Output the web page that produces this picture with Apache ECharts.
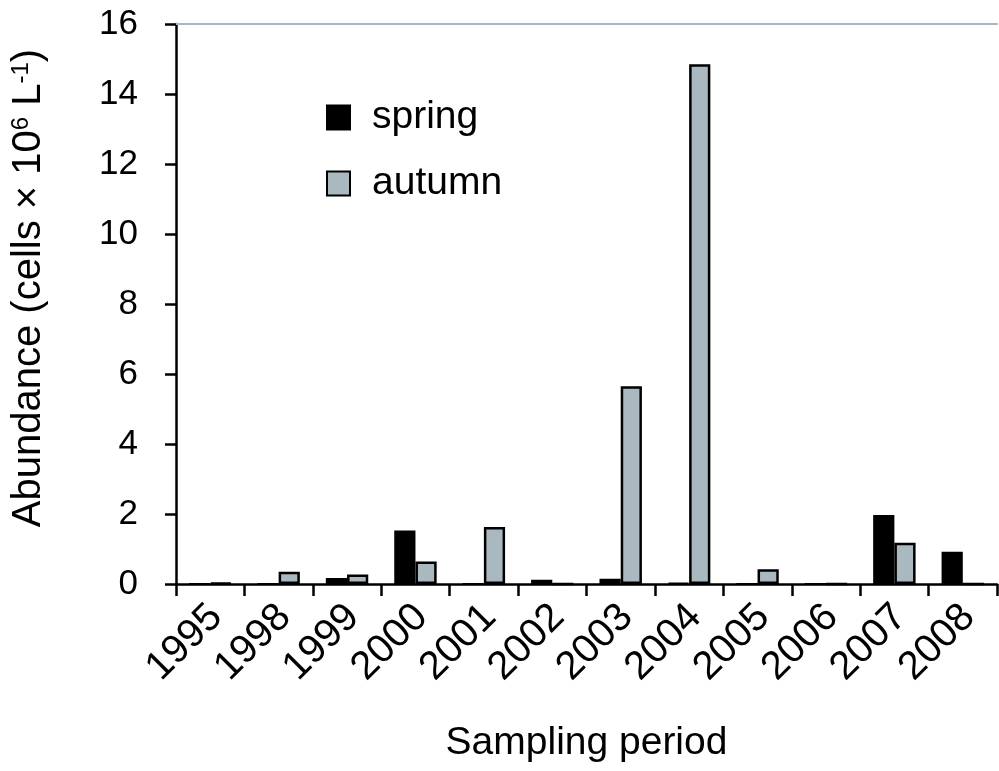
<!DOCTYPE html>
<html><head><meta charset="utf-8">
<script src="https://cdn.jsdelivr.net/npm/echarts@6/dist/echarts.min.js"></script>
<style>html,body{margin:0;padding:0;background:#fff}#c{width:999px;height:771px}</style>
</head><body><div id="c"></div>
<script>
const categories = ['1995','1998','1999','2000','2001','2002','2003','2004','2005','2006','2007','2008'];
const spring = [0, 0, 0.17, 1.53, 0, 0.12, 0.15, 0.03, 0, 0, 1.97, 0.92];
const autumn = [0.03, 0.35, 0.27, 0.64, 1.63, 0, 5.65, 14.85, 0.42, 0, 1.18, 0];
const yTicks = [0, 2, 4, 6, 8, 10, 12, 14, 16];

const font = 'Liberation Sans, Arial, sans-serif';
const chart = echarts.init(document.getElementById('c'));
chart.setOption({
  animation: false,
  backgroundColor: '#fff',
  grid: {left: 176, right: 2, top: 24, bottom: 187},
  legend: {
    orient: 'vertical', left: 321, top: 93, itemWidth: 23, itemHeight: 24, itemGap: 27,
    icon: 'rect',
    textStyle: {fontFamily: font, fontSize: 39, color: '#000', padding: [0, 0, 0, 17]},
    data: ['spring', 'autumn']
  },
  xAxis: [{
    type: 'category', data: categories,
    axisLine: {lineStyle: {color: '#000', width: 2.5}},
    axisTick: {show: true, interval: 0, length: 12, lineStyle: {color: '#000', width: 2.5}},
    axisLabel: {interval: 0, hideOverlap: false, rotate: 45, fontFamily: font, fontSize: 40, color: '#000',
      margin: 21, verticalAlign: 'top', lineHeight: 17},
    name: 'Sampling period', nameLocation: 'middle', nameGap: 140, nameMoveOverlap: false,
    nameTextStyle: {fontFamily: font, fontSize: 39, color: '#000'}
  }, {
    type: 'category', data: categories, position: 'top',
    axisLine: {lineStyle: {color: '#a9b9bf', width: 2}},
    axisTick: {show: false}, axisLabel: {show: false}
  }],
  yAxis: {
    type: 'value', min: 0, max: 16, interval: 2,
    axisLine: {show: true, lineStyle: {color: '#000', width: 2.5}},
    axisTick: {show: true, length: 11, lineStyle: {color: '#000', width: 2.5}},
    splitLine: {show: false},
    axisLabel: {fontFamily: font, fontSize: 35, color: '#000', margin: 38,
      formatter: v => yTicks.includes(v) ? String(v) : ''},
    name: '{n|Abundance (cells × 10}{s|6}{n| L}{s|-1}{n|)}',
    nameLocation: 'middle', nameGap: 127, nameMoveOverlap: false,
    nameTextStyle: {
      padding: [0, 0, 0, 32],
      rich: {
        n: {fontFamily: font, fontSize: 40, color: '#000'},
        s: {fontFamily: font, fontSize: 24, color: '#000', verticalAlign: 'top', padding: [0, 0, 16, 0]}
      }
    }
  },
  series: [{
    name: 'spring', type: 'bar', data: spring, barGap: '0%', barCategoryGap: '38%',
    itemStyle: {color: '#000', borderColor: '#000', borderWidth: 2}
  }, {
    name: 'autumn', type: 'bar', data: autumn, barGap: '0%', barCategoryGap: '38%',
    itemStyle: {color: '#a9b9bf', borderColor: '#000', borderWidth: 2.5}
  }]
});
</script></body></html>
